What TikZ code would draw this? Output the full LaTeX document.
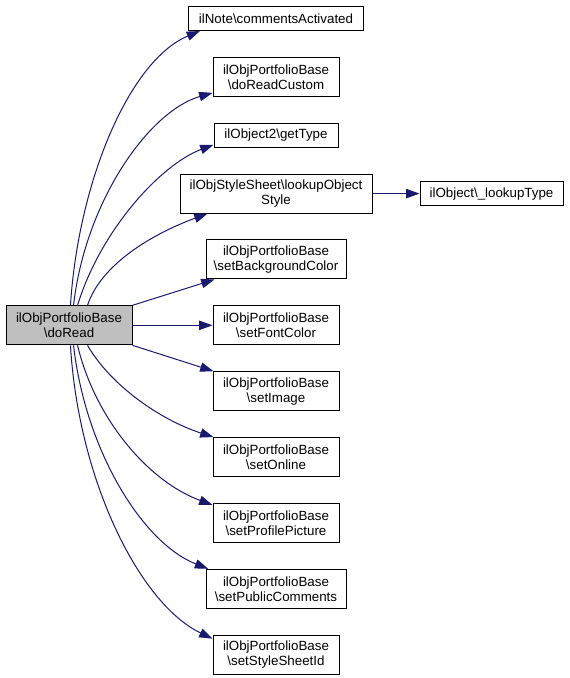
\documentclass[tikz,border=0pt]{standalone}
\usepackage{fontspec}
\setmainfont{Liberation Sans}
\usepackage{tikz}
\usetikzlibrary{arrows.meta, positioning}
\definecolor{edgeblue}{RGB}{25, 25, 112}
\definecolor{callergray}{RGB}{191, 191, 191}

\begin{document}
\begin{tikzpicture}[
    x=0.75pt, y=-0.75pt,
    node distance=19.4pt and 60pt,
    fn/.style={rectangle, draw=black, line width=0.75pt, align=center,
               font=\fontsize{10}{11.25}\selectfont, inner sep=1pt,
               minimum width=94.5pt, minimum height=29.25pt},
    fnshort/.style={fn, minimum height=18pt},
    caller/.style={fn, fill=callergray},
    call/.style={-{Triangle[length=10pt, width=7pt]}, draw=edgeblue, line width=0.75pt}
]
    \useasboundingbox (0,0) rectangle (569,678);

    % Called functions
    \node[fnshort, minimum width=131.25pt] (comments) at (276,18.5) {ilNote\textbackslash commentsActivated};
    \node[fn, below=of comments] (readcustom) {ilObjPortfolioBase\\\textbackslash doReadCustom};
    \node[fnshort, minimum width=93pt, below=of readcustom] (gettype) {ilObject2\textbackslash getType};
    \node[fn, minimum width=144pt, below=of gettype] (lookupstyle) {ilObjStyleSheet\textbackslash lookupObject\\Style};
    \node[fnshort, minimum width=107.25pt, right=35.25pt of lookupstyle] (lookuptype) {ilObject\textbackslash\_lookupType};
    \node[fn, minimum width=105pt, below=of lookupstyle] (bgcolor) {ilObjPortfolioBase\\\textbackslash setBackgroundColor};
    \node[fn, below=of bgcolor] (fontcolor) {ilObjPortfolioBase\\\textbackslash setFontColor};
    \node[fn, below=of fontcolor] (image) {ilObjPortfolioBase\\\textbackslash setImage};
    \node[fn, below=of image] (online) {ilObjPortfolioBase\\\textbackslash setOnline};
    \node[fn, below=of online] (profile) {ilObjPortfolioBase\\\textbackslash setProfilePicture};
    \node[fn, minimum width=105pt, below=of profile] (pubcomments) {ilObjPortfolioBase\\\textbackslash setPublicComments};
    \node[fn, below=of pubcomments] (stylesheetid) {ilObjPortfolioBase\\\textbackslash setStyleSheetId};

    % Caller
    \node[caller, left=of fontcolor] (doread) {ilObjPortfolioBase\\\textbackslash doRead};

    % Calls
    \draw[call] ([xshift=1.1pt]doread.north) .. controls +(8,-125) and +(-70,29) .. ([xshift=9pt]comments.south west);
    \draw[call] ([xshift=3.4pt]doread.north) .. controls +(12,-105) and +(-63,18) .. ([yshift=3pt]readcustom.south west);
    \draw[call] ([xshift=6.4pt]doread.north) .. controls +(23,-75) and +(-53,20) .. ([yshift=2.25pt]gettype.south west);
    \draw[call] ([xshift=13.9pt]doread.north) .. controls +(13,-40) and +(-57,21) .. ([xshift=21pt]lookupstyle.south west);
    \draw[call] (doread.north east) -- ([xshift=6.75pt]bgcolor.south west);
    \draw[call] (doread) -- (fontcolor);
    \draw[call] (doread.south east) -- ([xshift=0.75pt]image.north west);
    \draw[call] ([xshift=13.9pt]doread.south) .. controls +(23,40) and +(-53,-17) .. ([xshift=0.75pt]online.north west);
    \draw[call] ([xshift=6.4pt]doread.south) .. controls +(18,75) and +(-63,-23) .. ([yshift=-1.5pt]profile.north west);
    \draw[call] ([xshift=3.4pt]doread.south) .. controls +(12,105) and +(-66,-26) .. ([xshift=2pt]pubcomments.north west);
    \draw[call] ([xshift=1.1pt]doread.south) .. controls +(8,135) and +(-73,-35) .. ([yshift=-3pt]stylesheetid.north west);
    \draw[call] (lookupstyle) -- (lookuptype);

\end{tikzpicture}
\end{document}
